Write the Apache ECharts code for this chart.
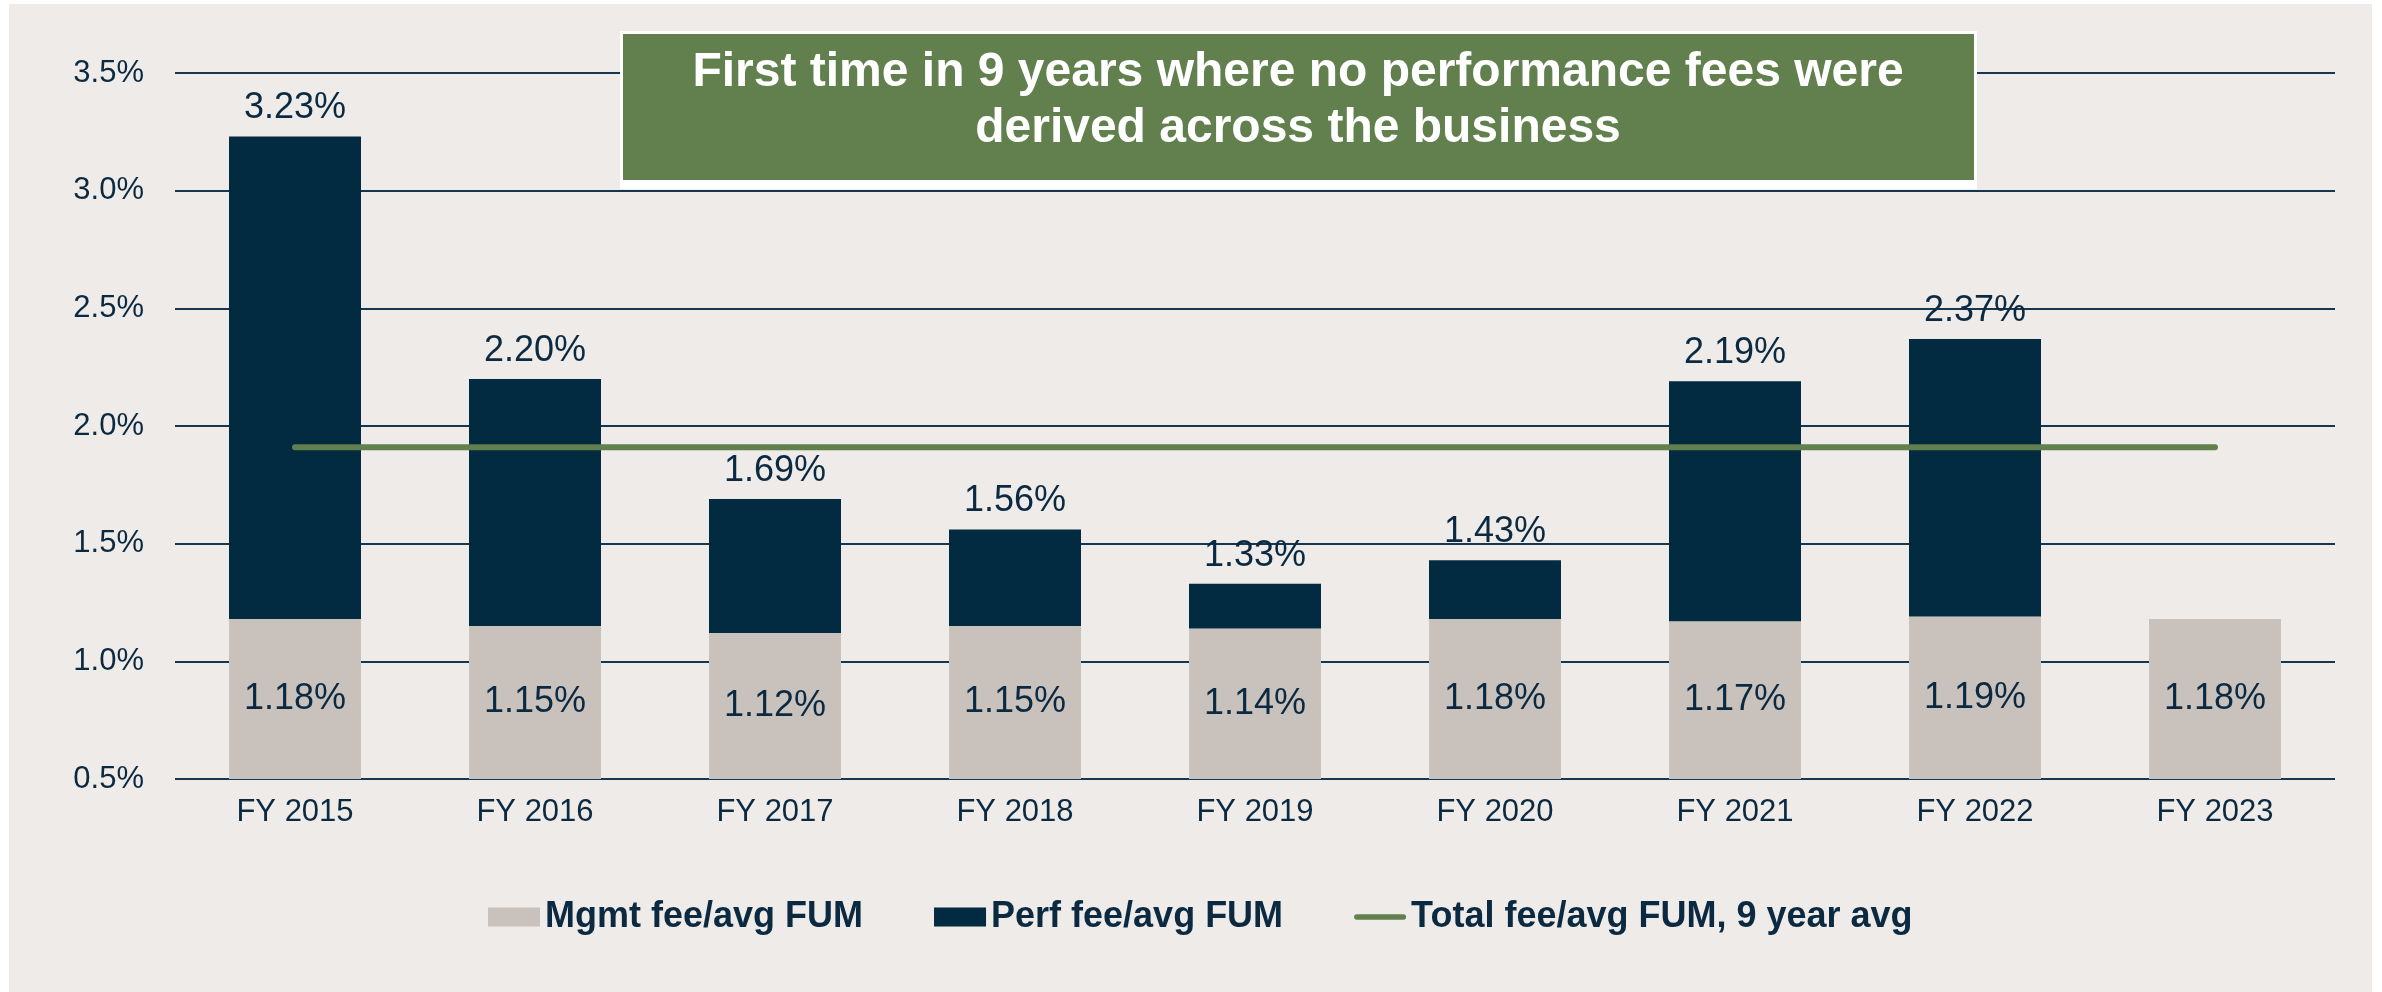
<!DOCTYPE html>
<html>
<head>
<meta charset="utf-8">
<script src="https://cdn.jsdelivr.net/npm/echarts@6/dist/echarts.min.js"></script>
<style>
html,body{margin:0;padding:0;background:#ffffff;}
#chart{width:2382px;height:992px;}
</style>
</head>
<body>
<div id="chart"></div>
<script>
const categories = ['FY 2015','FY 2016','FY 2017','FY 2018','FY 2019','FY 2020','FY 2021','FY 2022','FY 2023'];
const mgmtFee = [1.18, 1.15, 1.12, 1.15, 1.14, 1.18, 1.17, 1.19, 1.18];
const perfFee = [2.05, 1.05, 0.57, 0.41, 0.19, 0.25, 1.02, 1.18, 0];
const totalFee = [3.23, 2.20, 1.69, 1.56, 1.33, 1.43, 2.19, 2.37, 1.18];
const avgLine = [1.91, 1.91, 1.91, 1.91, 1.91, 1.91, 1.91, 1.91, 1.91];
const yTicks = { min: 0.5, max: 3.5, interval: 0.5 };
const titleLines = ['First time in 9 years where no performance fees were', 'derived across the business'];

const FONT = "'Liberation Sans', Arial, sans-serif";
const TXT = '#0B2A42';
const LINE_ICON = 'path://M0,0 L0.01,0 M56,19 L55.99,19 M3,6.5 L53,6.5 A3,3 0 0 1 53,12.5 L3,12.5 A3,3 0 0 1 3,6.5 Z';

const chart = echarts.init(document.getElementById('chart'), null, {renderer: 'canvas'});
chart.setOption({
  backgroundColor: '#ffffff',
  animation: false,
  textStyle: { fontFamily: FONT },
  graphic: [
    { type: 'rect', z: -10, shape: { x: 9, y: 4, width: 2363, height: 988 }, style: { fill: '#EEEBE8' } },
    { type: 'rect', z: 100, shape: { x: 620, y: 31, width: 1357, height: 158 }, style: { fill: '#ffffff' } },
    { type: 'rect', z: 101, shape: { x: 623, y: 34, width: 1351, height: 146 }, style: { fill: '#62804E' } },
    { type: 'text', z: 102, x: 1298, y: 101,
      style: { text: titleLines.join('\n'), fill: '#ffffff', font: "bold 48px " + FONT,
               align: 'center', verticalAlign: 'middle', lineHeight: 56 } }
  ],
  grid: { left: 175, right: 47, top: 73, bottom: 213 },
  legend: {
    left: 483, top: 894,
    itemWidth: 52, itemHeight: 19, itemGap: 71,
    textStyle: { fontSize: 36, fontWeight: 'bold', color: TXT, fontFamily: FONT },
    data: [
      { name: 'Mgmt fee/avg FUM', icon: 'rect' },
      { name: 'Perf fee/avg FUM', icon: 'rect' },
      { name: 'Total fee/avg FUM, 9 year avg', icon: LINE_ICON, itemStyle: { color: '#62804E', borderWidth: 0 } }
    ]
  },
  xAxis: {
    type: 'category', data: categories,
    axisLine: { show: false }, axisTick: { show: false },
    axisLabel: { fontSize: 31, color: TXT, margin: 18, fontFamily: FONT }
  },
  yAxis: {
    type: 'value', min: yTicks.min, max: yTicks.max, interval: yTicks.interval,
    startValue: yTicks.min,
    axisLine: { show: false }, axisTick: { show: false },
    axisLabel: { fontSize: 31, color: TXT, margin: 31, fontFamily: FONT,
                 formatter: v => v.toFixed(1) + '%' },
    splitLine: { lineStyle: { color: '#173650', width: 2 } }
  },
  series: [
    { name: 'Mgmt fee/avg FUM', type: 'bar', stack: 'fee', data: mgmtFee, barWidth: 132,
      itemStyle: { color: '#C9C2BC' },
      label: { show: true, position: 'inside', fontSize: 36, color: TXT, fontFamily: FONT,
               formatter: p => p.value.toFixed(2) + '%' } },
    { name: 'Perf fee/avg FUM', type: 'bar', stack: 'fee', data: perfFee, barWidth: 132,
      itemStyle: { color: '#022A40' },
      label: { show: true, position: 'top', distance: 10, fontSize: 36, color: TXT, fontFamily: FONT,
               formatter: p => p.value > 0 ? totalFee[p.dataIndex].toFixed(2) + '%' : '' } },
    { name: 'Total fee/avg FUM, 9 year avg', type: 'line', data: avgLine, symbol: 'none', z: 5,
      lineStyle: { color: '#62804E', width: 6, cap: 'round' }, itemStyle: { color: '#62804E' } }
  ]
});
</script>
</body>
</html>
